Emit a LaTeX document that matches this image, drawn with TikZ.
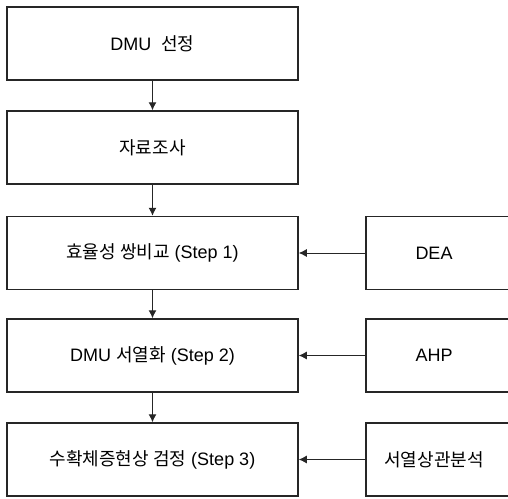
\documentclass[tikz,border=0pt]{standalone}
\usepackage{fontspec}
\setmainfont{Liberation Sans}
\newfontfamily\krfont{Noto Sans CJK KR}
\usetikzlibrary{arrows.meta}
\newcommand{\kr}[1]{{\krfont #1}}
\begin{document}
\begin{tikzpicture}[x=1pt,y=-1pt,
  boxline/.style={line width=1.5pt, draw=black!85},
  stepbox/.style={boxline, draw, minimum width=291pt, minimum height=73pt, inner sep=0pt, font=\fontsize{18}{21}\selectfont},
  sidebox/.style={minimum width=136pt, minimum height=73pt, inner sep=0pt, font=\fontsize{18}{21}\selectfont},
  link/.style={line width=1pt, draw=black!85, -{Latex[length=8pt,width=8pt]}}]
\useasboundingbox (0,0) rectangle (508,498);
\clip (0,0) rectangle (508,498);
\node[stepbox] (b1) at (152.5,43.5) {DMU\ \ \kr{선정}};
\node[stepbox] (b2) at (152.5,147.5) {\kr{자료조사}};
\node[stepbox] (b3) at (152.5,253) {\kr{효율성 쌍비교} (Step 1)};
\node[stepbox] (b4) at (152.5,355.5) {DMU \kr{서열화} (Step 2)};
\node[stepbox] (b5) at (152.5,459.5) {\kr{수확체증현상 검정} (Step 3)};
\node[sidebox] (r1) at (434,253) {DEA};
\node[sidebox] (r2) at (434,355.5) {AHP};
\node[sidebox] (r3) at (434,459.5) {\kr{서열상관분석}};
\foreach \r in {r1,r2,r3}{
  \draw[boxline] ([xshift=200pt]\r.north west) -- (\r.north west) -- (\r.south west) -- ([xshift=200pt]\r.south west);
}
\draw[link] (b1) -- (b2);
\draw[link] (b2) -- (b3);
\draw[link] (b3) -- (b4);
\draw[link] (b4) -- (b5);
\draw[link] (r1) -- (b3);
\draw[link] (r2) -- (b4);
\draw[link] (r3) -- (b5);
\end{tikzpicture}
\end{document}
